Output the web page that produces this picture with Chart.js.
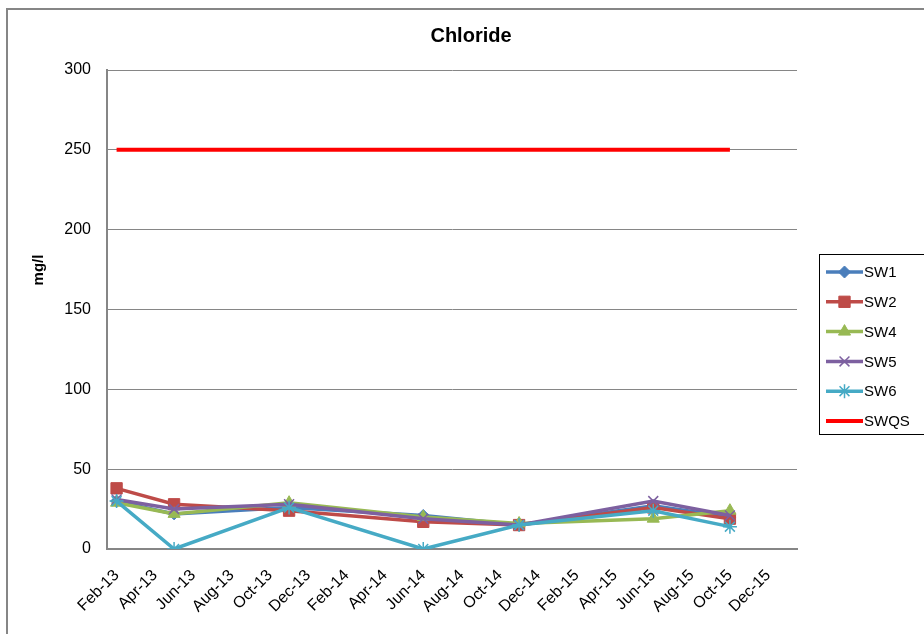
<!DOCTYPE html>
<html>
<head>
<meta charset="utf-8">
<title>Chloride</title>
<script src="https://cdn.jsdelivr.net/npm/chart.js@4/dist/chart.umd.min.js"></script>
<style>
  html, body { margin: 0; padding: 0; background: #ffffff; }
  #wrap { position: relative; width: 924px; height: 634px; }
</style>
</head>
<body>
<div id="wrap"><canvas id="chart"></canvas></div>
<script>
// Monthly slots on the time axis (Feb-13 .. Jan-16); every second month is labelled
const months = ['Feb-13','Mar-13','Apr-13','May-13','Jun-13','Jul-13','Aug-13','Sep-13','Oct-13','Nov-13','Dec-13','Jan-14',
                'Feb-14','Mar-14','Apr-14','May-14','Jun-14','Jul-14','Aug-14','Sep-14','Oct-14','Nov-14','Dec-14','Jan-15',
                'Feb-15','Mar-15','Apr-15','May-15','Jun-15','Jul-15','Aug-15','Sep-15','Oct-15','Nov-15','Dec-15','Jan-16'];

// Sampling rounds
const sampleDates = ['Feb-13','May-13','Nov-13','Jun-14','Nov-14','Jun-15','Oct-15'];

// Chloride concentrations (mg/l) per monitoring point
const sw1 = [30, 22, 26, 21, 15, 27, 20];
const sw2 = [38, 28, 24, 17, 15, 26, 19];
const sw4 = [29, 22, 29, 20, 16, 19, 24];
const sw5 = [31, 25, 28, 19, 15, 30, 21];
const sw6 = [30, 0, 26, 0, 15, 24, 14];
// Surface water quality standard
const swqs = [250, 250, 250, 250, 250, 250, 250];

const yTicks = [0, 50, 100, 150, 200, 250, 300];

const FONT = '"Liberation Sans", Arial, sans-serif';
const AXIS_GREY = '#868686';

function series(values) {
  return values.map((v, i) => ({ x: sampleDates[i], y: v }));
}

function makeSet(label, values, color, style, radius, order) {
  return {
    label: label,
    data: series(values),
    borderColor: color,
    backgroundColor: color,
    borderWidth: 3.5,
    pointStyle: style,
    pointRadius: radius,
    pointBorderWidth: style === 'crossRot' || style === 'star' ? 1.5 : 1,
    pointBorderColor: color,
    pointBackgroundColor: color,
    tension: 0,
    order: order
  };
}

const datasets = [
  makeSet('SW1', sw1, '#4A7EBB', 'rectRot', 6, 5),
  makeSet('SW2', sw2, '#BE4B48', 'rect', 8, 4),
  makeSet('SW4', sw4, '#98B954', 'triangle', 7, 3),
  makeSet('SW5', sw5, '#7D60A0', 'crossRot', 7, 2),
  makeSet('SW6', sw6, '#46AAC5', 'star', 7, 1),
  Object.assign(makeSet('SWQS', swqs, '#FF0000', false, 0, 0), { borderWidth: 4, pointRadius: 0 })
];

// Draw a marker shape for the legend
function marker(ctx, ds, x, y) {
  if (!ds.pointStyle || !ds.pointRadius) return;
  ctx.save();
  ctx.fillStyle = ds.pointBackgroundColor;
  ctx.strokeStyle = ds.pointBorderColor;
  ctx.lineWidth = ds.pointBorderWidth;
  Chart.helpers.drawPoint(ctx, {
    pointStyle: ds.pointStyle,
    radius: ds.pointRadius,
    rotation: 0,
    borderWidth: ds.pointBorderWidth
  }, x, y);
  ctx.restore();
}

const decorations = {
  id: 'decorations',
  afterDraw(chart) {
    const ctx = chart.ctx;
    ctx.save();

    // outer frame
    ctx.strokeStyle = AXIS_GREY;
    ctx.lineWidth = 2;
    ctx.strokeRect(7, 9, 940, 660);

    // title
    ctx.fillStyle = '#000000';
    ctx.font = 'bold 20px ' + FONT;
    ctx.textAlign = 'center';
    ctx.textBaseline = 'middle';
    ctx.fillText('Chloride', 471, 36);

    // y-axis title
    ctx.save();
    ctx.translate(39, 270);
    ctx.rotate(-Math.PI / 2);
    ctx.font = 'bold 15px ' + FONT;
    ctx.fillText('mg/l', 0, 0);
    ctx.restore();

    // legend
    ctx.strokeStyle = '#000000';
    ctx.lineWidth = 1;
    ctx.strokeRect(819.5, 254.5, 120, 180);
    ctx.font = '15px ' + FONT;
    ctx.textAlign = 'left';
    ctx.textBaseline = 'middle';
    datasets.forEach((ds, i) => {
      const y = 272 + i * 29.8;
      ctx.strokeStyle = ds.borderColor;
      ctx.lineWidth = ds.borderWidth;
      ctx.beginPath();
      ctx.moveTo(826, y);
      ctx.lineTo(863, y);
      ctx.stroke();
      marker(ctx, ds, 844.5, y);
      ctx.fillStyle = '#000000';
      ctx.fillText(ds.label, 864, y + 1);
    });
    ctx.restore();
  }
};

new Chart(document.getElementById('chart'), {
  type: 'line',
  data: { labels: months, datasets: datasets },
  options: {
    responsive: true,
    maintainAspectRatio: false,
    animation: false,
    layout: { padding: { left: 0, right: 127, top: 70, bottom: 0 } },
    plugins: {
      legend: { display: false },
      title: { display: false },
      tooltip: { enabled: false }
    },
    scales: {
      x: {
        type: 'category',
        offset: true,
        grid: { display: false, drawTicks: false },
        border: { display: true, color: AXIS_GREY, width: 2 },
        afterFit(scale) { scale.height = 85; },
        ticks: {
          autoSkip: false,
          maxRotation: 45,
          minRotation: 45,
          padding: 17,
          color: '#000000',
          font: { family: FONT, size: 16 },
          callback(value, index) { return index % 2 === 0 ? months[index] : ''; }
        }
      },
      y: {
        min: yTicks[0],
        max: yTicks[yTicks.length - 1],
        afterFit(scale) { scale.width = 107; },
        afterBuildTicks(scale) { scale.ticks = yTicks.map(v => ({ value: v })); },
        grid: { color: AXIS_GREY, lineWidth: 1, drawTicks: false },
        border: { display: true, color: AXIS_GREY, width: 2 },
        ticks: {
          padding: 16,
          color: '#000000',
          font: { family: FONT, size: 16 }
        }
      }
    }
  },
  plugins: [decorations]
});
</script>
</body>
</html>
